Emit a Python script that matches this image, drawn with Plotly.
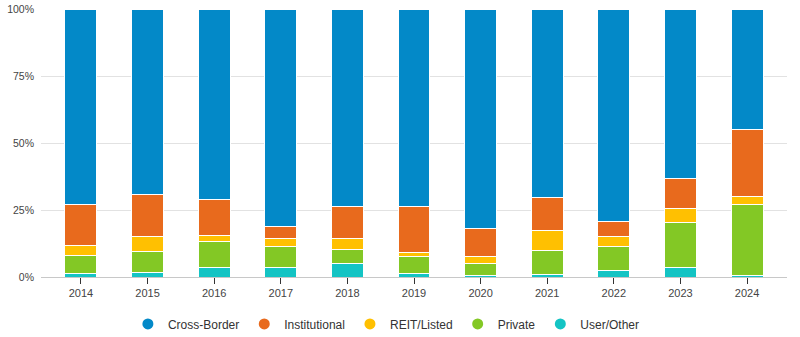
import plotly.graph_objects as go

years = ["2014", "2015", "2016", "2017", "2018", "2019", "2020", "2021", "2022", "2023", "2024"]
cross_border = [72.9, 69.1, 71.0, 81.1, 73.6, 73.6, 81.8, 70.3, 79.2, 63.2, 44.9]
institutional = [15.3, 15.7, 13.5, 4.7, 12.2, 17.1, 10.7, 12.5, 5.6, 11.2, 25.0]
reit_listed = [3.7, 5.6, 2.2, 2.7, 4.1, 1.5, 2.3, 7.2, 3.7, 5.2, 3.0]
private = [6.7, 8.0, 9.7, 8.1, 4.9, 6.4, 4.6, 9.0, 8.9, 17.0, 26.5]
user_other = [1.4, 1.6, 3.6, 3.4, 5.2, 1.4, 0.6, 1.0, 2.6, 3.4, 0.6]
y_ticks = [0, 25, 50, 75, 100]
y_tick_labels = ["0%", "25%", "50%", "75%", "100%"]

series = [
    ("User/Other", user_other, "#14c4c4"),
    ("Private", private, "#83c825"),
    ("REIT/Listed", reit_listed, "#ffc001"),
    ("Institutional", institutional, "#e86a1d"),
    ("Cross-Border", cross_border, "#0389c8"),
]
legend_order = ["Cross-Border", "Institutional", "REIT/Listed", "Private", "User/Other"]
colors = {n: c for n, _, c in series}

xs = list(range(len(years)))
fig = go.Figure()
for name, vals, col in series:
    fig.add_trace(go.Bar(
        x=xs, y=vals, name=name, marker=dict(color=col, line=dict(color="white", width=1)),
        showlegend=False,
        hovertemplate="%{y:.1f}%<extra>" + name + "</extra>",
    ))
for name in legend_order:
    fig.add_trace(go.Scatter(
        x=[None], y=[None], mode="markers", name=name,
        marker=dict(symbol="circle", size=11, color=colors[name]),
    ))

fig.update_layout(
    width=800, height=337,
    barmode="stack", bargap=0.52,
    margin=dict(l=41, r=13, t=9, b=60, autoexpand=False),
    plot_bgcolor="white", paper_bgcolor="white",
    font=dict(family="Liberation Sans, Arial, sans-serif", size=11, color="#444"),
    legend=dict(orientation="h", xref="container", x=0.483, xanchor="center",
                yref="paper", y=-0.175, yanchor="middle",
                font=dict(size=12, color="#333"),
                itemwidth=30, traceorder="normal"),
    xaxis=dict(
        tickmode="array", tickvals=xs, ticktext=years, range=[-0.6, 10.6],
        showgrid=False, showline=True, linecolor="#c8c8c8", linewidth=1,
        ticks="outside", ticklen=6, tickcolor="#333", tickwidth=1,
        tickfont=dict(size=11, color="#444"), zeroline=False, fixedrange=True,
    ),
    yaxis=dict(
        range=[0, 100], tickmode="array", tickvals=y_ticks, ticktext=y_tick_labels,
        showgrid=True, gridcolor="#e2e2e2", gridwidth=1, zeroline=False,
        tickfont=dict(size=10.5, color="#444"), ticklabelstandoff=6, fixedrange=True,
    ),
)
fig.write_html("out.html")
